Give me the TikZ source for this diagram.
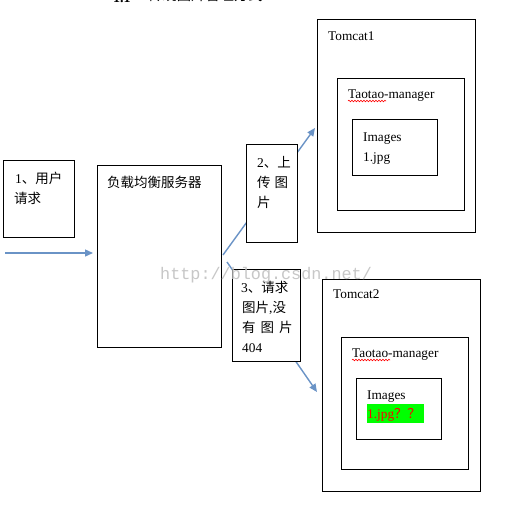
\documentclass[tikz,border=0pt]{standalone}
\usepackage{fontspec}
\setmainfont{Liberation Serif}
\newfontfamily\cjk{Noto Sans CJK SC}
\newfontfamily\wmfont{Liberation Mono}
\usetikzlibrary{arrows.meta,decorations.pathmorphing}
\definecolor{arrowblue}{HTML}{6A93C6}
\definecolor{hlgreen}{HTML}{00FF00}
\tikzset{
  box/.style={draw, line width=1pt, fill=white, anchor=north west, inner sep=0pt},
  txt/.style={anchor=base west, inner sep=0pt, font=\fontsize{13.3}{16}\selectfont},
  ctxt/.style={anchor=base west, inner sep=0pt, font=\fontsize{13.5}{16}\selectfont\cjk},
  arr/.style={draw=arrowblue, line width=1.4pt, -{Triangle[length=8pt,width=7pt]}},
  wavy/.style={draw=red, line width=0.6pt, decorate, decoration={snake, amplitude=0.8pt, segment length=3pt}}
}
\begin{document}
\begin{tikzpicture}[x=1pt,y=-1pt]
\useasboundingbox (0,0) rectangle (514,523);
\clip (0,0) rectangle (514,523);
% title (cut off at the top)
\node[anchor=base west, inner sep=0pt, font=\fontsize{14}{16}\selectfont\bfseries] (tnum) at (113,2.5) {1.1};
\node[anchor=base west, inner sep=0pt, font=\fontsize{14.3}{16}\selectfont\cjk] (title) at (148,0.8) {传统图片管理方式};

% arrows (drawn beneath the boxes)
\coordinate (in0) at (5,253);
\coordinate (in1) at (93,253);
\coordinate (s1) at (223,255);
\coordinate (t1) at (315,128);
\coordinate (s2) at (227,262);
\coordinate (t2) at (317,392);
\draw[arr] (in0) -- (in1);
\draw[arr] (s1) -- (t1);
\draw[arr] (s2) -- (t2);

% left boxes
\node[box, minimum width=71pt, minimum height=77pt] (user) at (3,160) {};
\node[ctxt] (usert1) at (15,183) {{\rmfamily 1}、用户};
\node[ctxt] (usert2) at (14,203) {请求};

\node[box, minimum width=124pt, minimum height=182pt] (lb) at (97,165) {};
\node[ctxt] (lbt) at (107,187) {负载均衡服务器};

\node[box, minimum width=51pt, minimum height=98pt] (up) at (246,144) {};
\node[ctxt] (upt1) at (257,167) {{\rmfamily 2}、上};
\node[ctxt] (upt2) at (257,187) {传\hspace{4pt}图};
\node[ctxt] (upt3) at (257,207) {片};

\node[box, minimum width=68pt, minimum height=92pt] (req) at (232,269) {};
\node[ctxt] (reqt1) at (241,292) {{\rmfamily 3}、请求};
\node[ctxt] (reqt2) at (242,312) {图片{\rmfamily ,}没};
\node[ctxt] (reqt3) at (242,332) {有\hspace{5pt}图\hspace{5pt}片};
\node[txt] (reqt4) at (242,352) {404};

% Tomcat1
\node[box, minimum width=158pt, minimum height=213pt] (tc1) at (317,19) {};
\node[txt] (tc1t) at (328,40) {Tomcat1};
\node[box, minimum width=127pt, minimum height=132pt] (tm1) at (337,78) {};
\node[txt] (tm1t) at (348,98) {Taotao-manager};
\draw[wavy] (348,101) -- (386,101);
\node[box, minimum width=85pt, minimum height=56pt] (im1) at (352,119) {};
\node[txt] (im1t) at (363,141) {Images};
\node[txt] (im1f) at (363,161.5) {1.jpg};

% Tomcat2
\node[box, minimum width=158pt, minimum height=212pt] (tc2) at (322,279) {};
\node[txt] (tc2t) at (333,298) {Tomcat2};
\node[box, minimum width=127pt, minimum height=132pt] (tm2) at (341,337) {};
\node[txt] (tm2t) at (352,357) {Taotao-manager};
\draw[wavy] (352,360) -- (390,360);
\node[box, minimum width=85pt, minimum height=61pt] (im2) at (356,378) {};
\node[txt] (im2t) at (367,399) {Images};
\node[fill=hlgreen, anchor=north west, inner sep=0pt, minimum width=57pt, minimum height=19pt] (hl) at (367,404) {};
\node[txt, text=red] (im2f) at (367,418) {1.jpg{\cjk ？？}};

% watermark
\node[anchor=base west, inner sep=0pt, text=black!22, font=\fontsize{16.8}{18}\selectfont\wmfont] (wm) at (160,279) {http://blog.csdn.net/};
\end{tikzpicture}
\end{document}
